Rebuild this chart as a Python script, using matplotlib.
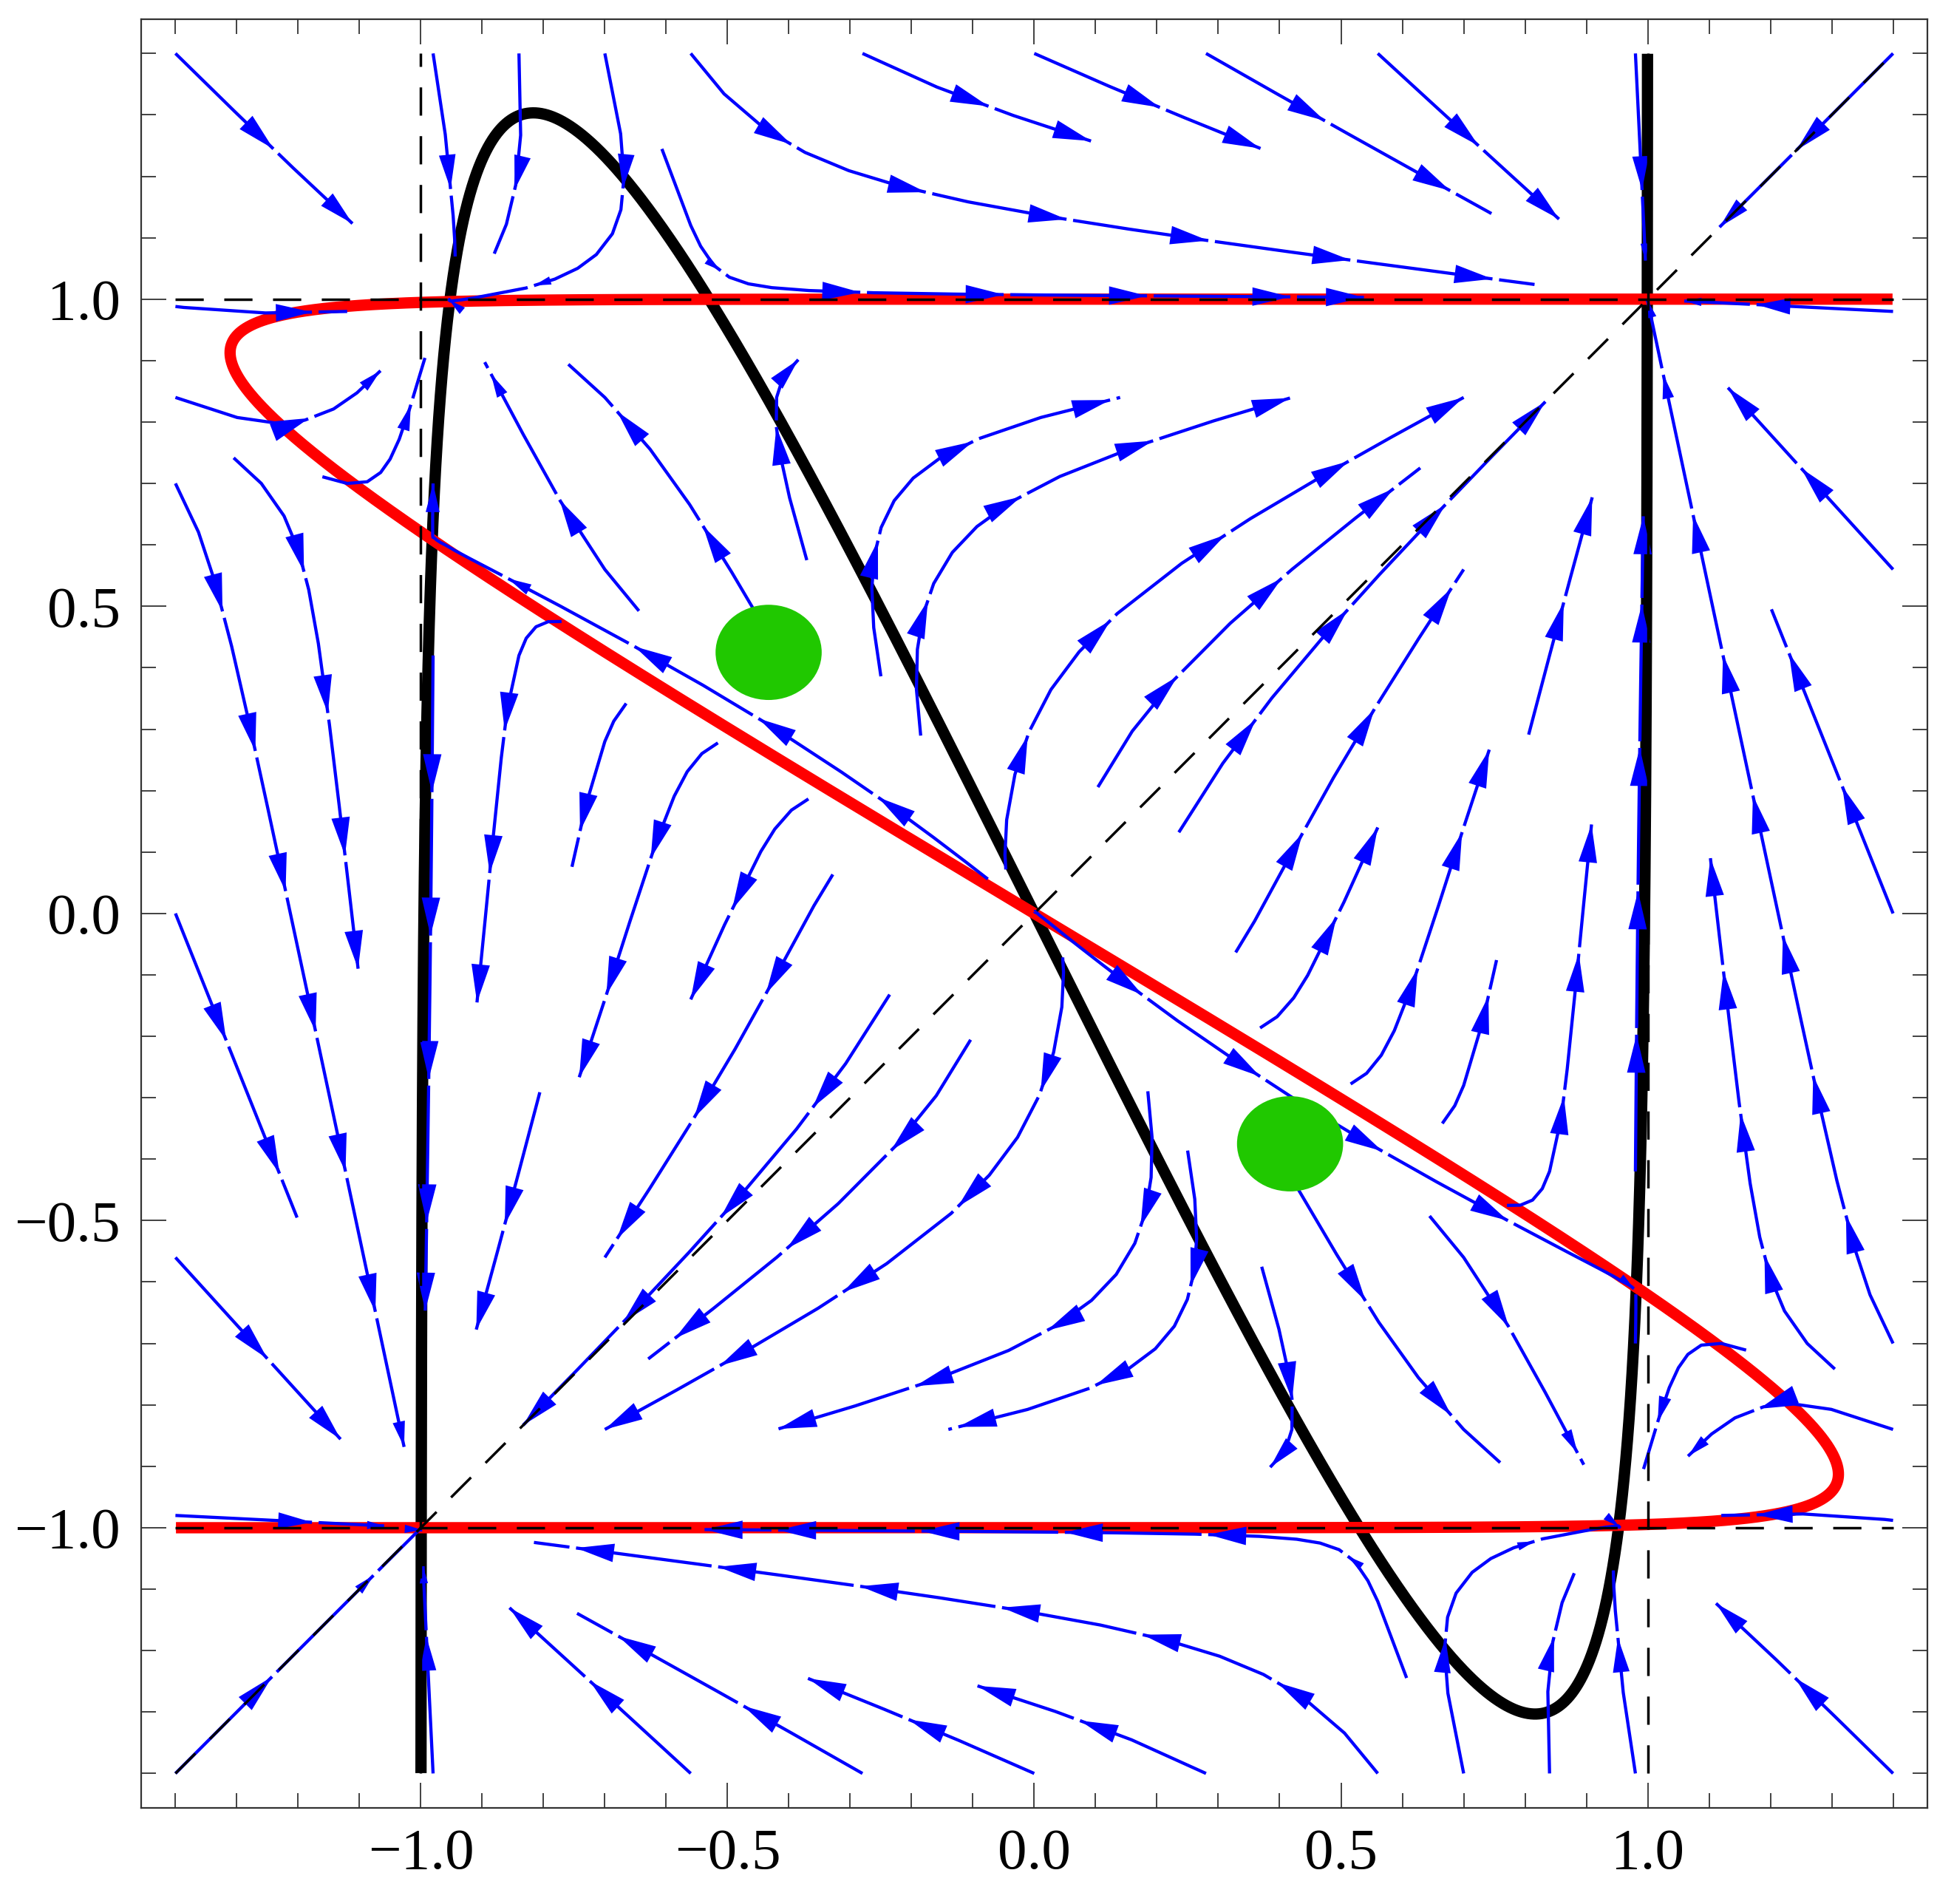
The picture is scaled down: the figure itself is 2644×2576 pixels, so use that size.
import numpy as np
import matplotlib.pyplot as plt
from matplotlib.patches import Ellipse, FancyArrowPatch
from matplotlib.ticker import MultipleLocator, FuncFormatter

# two-unit rate model: dx/dt = -x + tanh(a*x + b*y), dy/dt = -y + tanh(c*x + d*y)
# weights chosen so the nullclines match the drawn curves
a, b = 3.0, 1.0
c, d = 3.0, 6.0

# green marked points (centre, width, height)
mark_x = [-0.433, 0.417]
mark_y = [0.425, -0.375]
mark_w = [0.173, 0.173]
mark_h = [0.155, 0.155]

lo, hi = -1.4, 1.4
pad = 0.056


def field(x, y):
    return -x + np.tanh(a * x + b * y), -y + np.tanh(c * x + d * y)


# vector field on a grid
xs = np.linspace(lo, hi, 300)
X, Y = np.meshgrid(xs, xs)
U, V = field(X, Y)

# nullclines, parametrised through arctanh
v = np.linspace(-(hi + a), hi + a, 6001)
bx = np.tanh(v)
by = (v - a * np.tanh(v)) / b
ok = np.abs(by) <= hi
bx, by = bx[ok], by[ok]

u = np.linspace(-(hi * c + d), hi * c + d, 8001)
ry = np.tanh(u)
rx = (u - d * np.tanh(u)) / c
ok = np.abs(rx) <= hi
rx, ry = rx[ok], ry[ok]

# streamlines from matplotlib's integrator (scratch figure)
tmp_fig, tmp_ax = plt.subplots()
sp = tmp_ax.streamplot(xs, xs, U, V, density=0.7, linewidth=1, color='b')
trajs = [np.asarray(s) for s in sp.lines.get_segments()]
plt.close(tmp_fig)

plt.rcParams['font.family'] = ['Liberation Serif', 'DejaVu Serif']

fig = plt.figure(figsize=(26.44, 25.76), dpi=100)
ax = fig.add_axes([0.0722, 0.0505, 0.9142, 0.9395])
ax.set_xlim(lo - pad, hi + pad)
ax.set_ylim(lo - pad, hi + pad)

ax.plot(bx, by, color='black', lw=11, solid_capstyle='butt', zorder=2)
ax.plot(rx, ry, color='#ff0000', lw=11, solid_capstyle='butt', zorder=2.5)

# draw each streamline as a chain of arrows (Mathematica style)
blue = '#0000ff'
seg_len, gap = 185.0, 9.0   # pixels
to_data = ax.transData.inverted()
for t in trajs:
    if len(t) < 2:
        continue
    fu, fv = field(t[:-1, 0], t[:-1, 1])
    if np.sum(fu * np.diff(t[:, 0]) + fv * np.diff(t[:, 1])) < 0:
        t = t[::-1]
    P = ax.transData.transform(t)
    s = np.concatenate([[0], np.cumsum(np.hypot(*np.diff(P, axis=0).T))])
    total = s[-1]
    start = 0.0
    while start < total - 1:
        end = min(start + seg_len, total)
        inner = (s > start) & (s < end)
        sx = np.concatenate([[np.interp(start, s, P[:, 0])], P[inner, 0], [np.interp(end, s, P[:, 0])]])
        sy = np.concatenate([[np.interp(start, s, P[:, 1])], P[inner, 1], [np.interp(end, s, P[:, 1])]])
        pts = to_data.transform(np.column_stack([sx, sy]))
        ax.plot(pts[:, 0], pts[:, 1], color=blue, lw=3.1, solid_capstyle='butt', zorder=3)
        if end - start > 0.45 * seg_len:
            tail = to_data.transform([[np.interp(end - 3, s, P[:, 0]), np.interp(end - 3, s, P[:, 1])]])[0]
            tip = pts[-1]
            sx_, sy_ = field(tip[0], tip[1])
            sc = float(np.clip(np.hypot(sx_, sy_) / 0.2, 0.45, 1.0))
            ax.add_patch(FancyArrowPatch(tail, tip, arrowstyle='-|>,head_length=3.7,head_width=0.9',
                                         mutation_scale=10 * sc, color=blue, lw=0,
                                         shrinkA=0, shrinkB=0, zorder=3.1))
        start = end + gap

dash = dict(color='black', lw=2.5, dashes=(11, 8), zorder=4)
ax.plot([-1, -1], [lo, hi], **dash)
ax.plot([1, 1], [lo, hi], **dash)
ax.plot([lo, hi], [1, 1], **dash)
ax.plot([lo, hi], [-1, -1], **dash)
ax.plot([lo, hi], [lo, hi], **dash)

for px, py, w, h in zip(mark_x, mark_y, mark_w, mark_h):
    ax.add_patch(Ellipse((px, py), w, h, color='#20c800', lw=0, zorder=5))

fmt = FuncFormatter(lambda t, p: f"{t:.1f}".replace('-0.0', '0.0').replace('-', '\u2212'))
for axis in (ax.xaxis, ax.yaxis):
    axis.set_major_locator(MultipleLocator(0.5))
    axis.set_minor_locator(MultipleLocator(0.1))
    axis.set_major_formatter(fmt)

ax.tick_params(which='both', direction='in', top=True, right=True, width=1.3, color='#333333')
ax.tick_params(which='major', length=24.5, labelsize=57, pad=20)
ax.tick_params(which='minor', length=14.5)
for s in ax.spines.values():
    s.set_linewidth(1.6)
    s.set_color('#333333')
    s.set_zorder(6)

fig.savefig('out.png', dpi=100)
